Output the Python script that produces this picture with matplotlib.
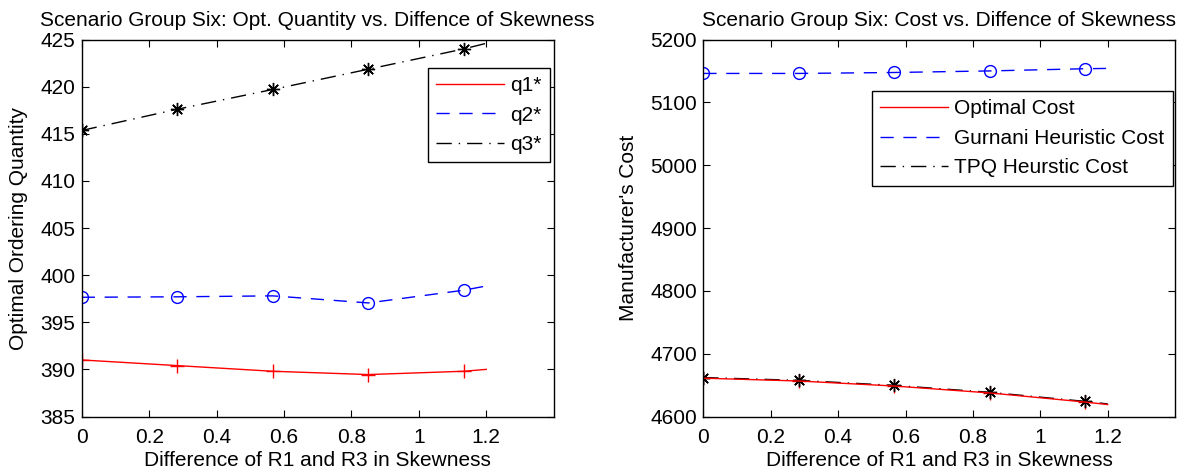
import numpy as np
import matplotlib
matplotlib.use("Agg")
import matplotlib.pyplot as plt

plt.rcParams['font.family'] = ['Liberation Sans', 'DejaVu Sans']
plt.rcParams['font.size'] = 15

# skewness difference between R1 and R3 (markers at first five, line runs to 1.2)
skew = [0, 0.2833, 0.5667, 0.85, 1.1333, 1.2]

# left panel: optimal ordering quantities
q1 = [391.0, 390.4, 389.8, 389.45, 389.8, 390.0]
q2 = [397.65, 397.7, 397.8, 397.05, 398.4, 398.85]
q3 = [415.35, 417.6, 419.7, 421.85, 424.0, 424.6]

# right panel: manufacturer's cost
cost_opt = [4661, 4656.5, 4648.5, 4637.5, 4623, 4619]
cost_gur = [5146, 5146, 5147.5, 5150, 5153.5, 5154]
cost_tpq = [4662, 4657.5, 4649.5, 4638.5, 4624, 4620]

ast = (8, 2, 0)  # matlab style asterisk
dash = (0, (9.5, 7))
dashdot = (0, (11, 5, 1, 5))

fig = plt.figure(figsize=(11.97, 4.76), dpi=100)
ax1 = fig.add_axes([0.0683, 0.125, 0.3943, 0.792])
ax2 = fig.add_axes([0.5876, 0.125, 0.3941, 0.792])


def style(ax):
    ax.set_xlim(0, 1.4)
    ax.set_xticks([0, 0.2, 0.4, 0.6, 0.8, 1.0, 1.2])
    ax.set_xticklabels(['0', '0.2', '0.4', '0.6', '0.8', '1', '1.2'])
    ax.tick_params(direction='in', top=True, right=True, length=5, width=0.8)
    ax.tick_params(axis='x', pad=8)
    ax.tick_params(axis='y', pad=4.5)
    for s in ax.spines.values():
        s.set_linewidth(1.0)
    ax.set_xlabel('Difference of R1 and R3 in Skewness', labelpad=3.5)


def legend(ax, top, right):
    leg = ax.legend(loc='upper right', bbox_to_anchor=(right, top), fancybox=False,
                    edgecolor='black', framealpha=1, handlelength=3.27, handletextpad=0.28,
                    labelspacing=0.5, borderpad=0.4, borderaxespad=0)
    leg.get_frame().set_linewidth(1.0)


# left
ax1.plot(skew, q1, color='red', lw=1.0, label='q1*')
ax1.plot(skew, q2, color='blue', lw=1.0, linestyle=dash, label='q2*')
ax1.plot(skew, q3, color='black', lw=1.0, linestyle=dashdot, label='q3*')
ax1.plot(skew[:5], q1[:5], linestyle='none', marker='+', color='red', ms=10, mew=1)
ax1.plot(skew[:5], q2[:5], linestyle='none', marker='o', mfc='none', mec='blue', ms=8.5, mew=1)
ax1.plot(skew[:5], q3[:5], linestyle='none', marker=ast, color='black', ms=9.5, mew=1)
style(ax1)
ax1.set_ylim(385, 425)
ax1.set_yticks(np.arange(385, 426, 5))
ax1.set_ylabel('Optimal Ordering Quantity', labelpad=9)
ax1.set_title('Scenario Group Six: Opt. Quantity vs. Diffence of Skewness', fontsize=15, pad=10)
legend(ax1, 0.925, 0.992)

# right
ax2.plot(skew, cost_tpq, color='black', lw=1.0, linestyle=dashdot, zorder=2)
ax2.plot(skew, cost_opt, color='red', lw=1.0, label='Optimal Cost', zorder=2.1)
ax2.plot(skew, cost_gur, color='blue', lw=1.0, linestyle=dash, label='Gurnani Heuristic Cost')
ax2.plot([], [], color='black', lw=1.0, linestyle=dashdot, label='TPQ Heurstic Cost')
ax2.plot(skew[:5], cost_opt[:5], linestyle='none', marker='+', color='red', ms=10, mew=1)
ax2.plot(skew[:5], cost_gur[:5], linestyle='none', marker='o', mfc='none', mec='blue', ms=8.5, mew=1)
ax2.plot(skew[:5], cost_tpq[:5], linestyle='none', marker=ast, color='black', ms=9.5, mew=1)
style(ax2)
ax2.set_ylim(4600, 5200)
ax2.set_yticks(np.arange(4600, 5201, 100))
ax2.set_ylabel("Manufacturer's Cost", labelpad=9)
ax2.set_title('Scenario Group Six: Cost vs. Diffence of Skewness', fontsize=15, pad=10)
legend(ax2, 0.863, 0.995)

fig.savefig('out.png', dpi=100)
